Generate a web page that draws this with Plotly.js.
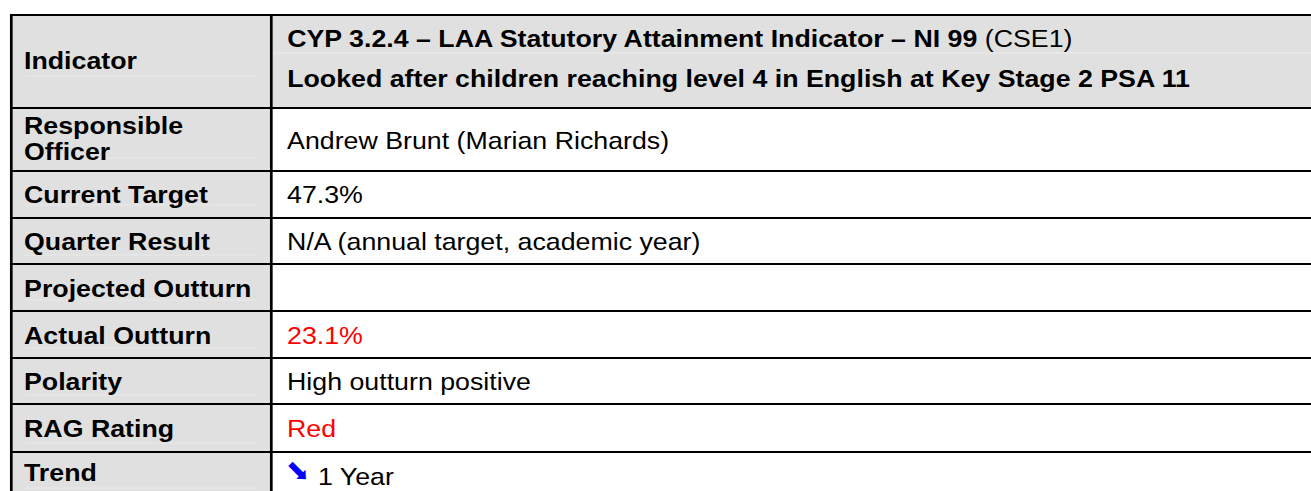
<!DOCTYPE html>
<html>
<head>
<meta charset="utf-8">
<script src="https://cdn.plot.ly/plotly-3.0.1.min.js"></script>
<style>
  html, body { margin: 0; padding: 0; background: #ffffff; overflow: hidden; }
  #chart { width: 1311px; height: 491px; }
  #chart .annotation-text { transform-box: fill-box; transform-origin: 0 50%; transform: scaleX(1.115); }
</style>
</head>
<body>
<div id="chart"></div>
<script>
// ---- data ----
const labels = ["Indicator", "Responsible<br>Officer", "Current Target", "Quarter Result",
  "Projected Outturn", "Actual Outturn", "Polarity", "RAG Rating", "Trend"];
const indicatorCode = "CYP 3.2.4 – LAA Statutory Attainment Indicator – NI 99";
const indicatorRef = "(CSE1)";
const indicatorTitle = "Looked after children reaching level 4 in English at Key Stage 2 PSA 11";
const values = ["", "Andrew Brunt (Marian Richards)", "47.3%", "N/A (annual target, academic year)",
  "", "23.1%", "High outturn positive", "Red", "1 Year"];
const trendSymbol = "➡";

// ---- layout constants (positions / styles) ----
const rowEdges = [15, 108, 171, 218, 264, 311, 358, 404, 452, 530];
const xLeft = 11.3, xDiv = 271.3, xRight = 1340;
const labelX = 24, valueX = 286.5;
const labelLineY = [[60.5], [125.5], [194], [241], [288], [335], [381], [428], [472]];
labelLineY[1].push(151.5);
const valueY = [null, 140, 194, 241, 288, 335, 381, 428, 476];
const headerLineY = [38.5, 78.5];
const valueColors = ["#000", "#000", "#000", "#000", "#000", "#ff0000", "#000", "#ff0000", "#000"];
const faintY = [76, 158, 205, 255, 300, 348, 395, 443, 488];
const gray = "#e0e0e0";
const FONT = "Liberation Sans, Arial, Helvetica, sans-serif";
const FS = 24;

const shapes = [];
const annotations = [];

// fills
shapes.push({type: "rect", xref: "x", yref: "y", x0: xLeft, x1: xRight, y0: rowEdges[0], y1: rowEdges[1],
  fillcolor: gray, line: {width: 0}, layer: "below"});
shapes.push({type: "rect", xref: "x", yref: "y", x0: xLeft, x1: xDiv, y0: rowEdges[1], y1: rowEdges[rowEdges.length - 1],
  fillcolor: gray, line: {width: 0}, layer: "below"});

// faint rules
shapes.push({type: "line", xref: "x", yref: "y", x0: xDiv + 2, x1: xRight, y0: 53, y1: 53,
  line: {color: "#ececec", width: 1}, layer: "below"});
faintY.forEach(y => shapes.push({type: "line", xref: "x", yref: "y", x0: 25, x1: 258, y0: y, y1: y,
  line: {color: "#e9e9e9", width: 1}, layer: "below"}));

// horizontal borders
rowEdges.slice(0, -1).forEach(y => shapes.push({type: "line", xref: "x", yref: "y", x0: xLeft - 1.3, x1: xRight, y0: y, y1: y,
  line: {color: "#000", width: 2}}));
// vertical borders
[xLeft, xDiv].forEach(x => shapes.push({type: "line", xref: "x", yref: "y", x0: x, x1: x, y0: rowEdges[0] - 1, y1: rowEdges[rowEdges.length - 1],
  line: {color: "#000", width: 2.7}}));

// labels
labels.forEach((lab, i) => {
  lab.split("<br>").forEach((ln, j) => {
    annotations.push({xref: "x", yref: "y", x: labelX, y: labelLineY[i][j], xanchor: "left", yanchor: "middle",
      text: "<b>" + ln + "</b>", showarrow: false, borderpad: 0, borderwidth: 0,
      font: {family: FONT, size: FS, color: "#000"}});
  });
});

// header value
annotations.push({xref: "x", yref: "y", x: valueX, y: headerLineY[0], xanchor: "left", yanchor: "middle",
  text: "<b>" + indicatorCode + "</b> " + indicatorRef, showarrow: false, borderpad: 0, borderwidth: 0,
  font: {family: FONT, size: FS, color: "#000"}});
annotations.push({xref: "x", yref: "y", x: valueX, y: headerLineY[1], xanchor: "left", yanchor: "middle",
  text: "<b>" + indicatorTitle + "</b>", showarrow: false, borderpad: 0, borderwidth: 0,
  font: {family: FONT, size: FS, color: "#000"}});

// values
values.forEach((v, i) => {
  if (i === 0 || v === "") return;
  const isTrend = labels[i] === "Trend";
  annotations.push({xref: "x", yref: "y", x: isTrend ? valueX + 31 : valueX, y: valueY[i], xanchor: "left", yanchor: "middle",
    text: v, showarrow: false, borderpad: 0, borderwidth: 0,
    font: {family: FONT, size: FS, color: valueColors[i]}});
  if (isTrend) {
    annotations.push({xref: "x", yref: "y", x: 298, y: 469.5, xanchor: "center", yanchor: "middle",
      text: trendSymbol, textangle: 45, showarrow: false, borderpad: 0, borderwidth: 0,
      font: {family: "DejaVu Sans, sans-serif", size: 26, color: "#0000ff"}});
  }
});

const layout = {
  width: 1311, height: 491,
  margin: {l: 0, r: 0, t: 0, b: 0},
  paper_bgcolor: "#ffffff", plot_bgcolor: "#ffffff",
  xaxis: {range: [0, 1311], visible: false, fixedrange: true},
  yaxis: {range: [491, 0], visible: false, fixedrange: true},
  showlegend: false,
  shapes: shapes,
  annotations: annotations
};

Plotly.newPlot("chart", [], layout, {staticPlot: true, displayModeBar: false});
</script>
</body>
</html>
